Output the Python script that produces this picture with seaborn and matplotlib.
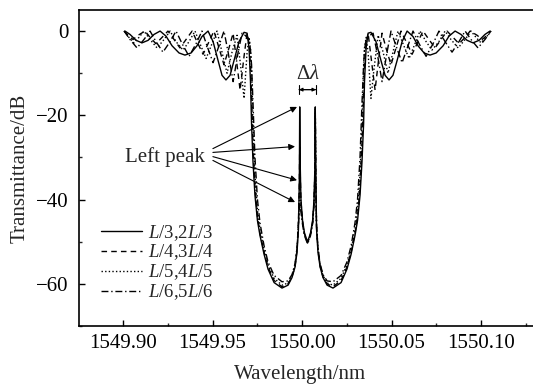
import matplotlib
matplotlib.use("Agg")
import matplotlib.pyplot as plt
import seaborn as sns
import pandas as pd
from matplotlib.ticker import MultipleLocator, FormatStrFormatter

# ---------------- data ----------------
labels = [r"$L$/3,2$L$/3", r"$L$/4,3$L$/4", r"$L$/5,4$L$/5", r"$L$/6,5$L$/6"]

# wavelengths (nm) of the stop-band core region, shared by all curves
core_wl = [1549.9704, 1549.9712, 1549.9718, 1549.9726, 1549.9737, 1549.9751,
           1549.9765, 1549.9788, 1549.9810, 1549.9844, 1549.9888, 1549.9922,
           1549.9944, 1549.9961, 1549.9972, 1549.9980, 1549.9985, 1549.9987,
           1549.9990, 1549.9994, 1550.0003, 1550.0014, 1550.0031,
           1550.0047, 1550.0059, 1550.0067, 1550.0072, 1550.0074, 1550.0077,
           1550.0081, 1550.0089, 1550.0101, 1550.0117, 1550.0140, 1550.0173,
           1550.0218, 1550.0251, 1550.0274, 1550.0296, 1550.0310, 1550.0324,
           1550.0335, 1550.0344, 1550.0349, 1550.0358]

# ---- L/3, 2L/3 (solid)
solid_wl_left = [1549.9011, 1549.9039, 1549.9073, 1549.9106, 1549.9140, 1549.9173,
                 1549.9207, 1549.9240, 1549.9274, 1549.9313, 1549.9346, 1549.9380,
                 1549.9413, 1549.9441, 1549.9475, 1549.9503, 1549.9531, 1549.9553,
                 1549.9575, 1549.9598, 1549.9620, 1549.9648, 1549.9676, 1549.9693]
solid_wl_right = [1550.0369, 1550.0385, 1550.0413, 1550.0441, 1550.0464, 1550.0486,
                  1550.0508, 1550.0531, 1550.0559, 1550.0587, 1550.0620, 1550.0648,
                  1550.0682, 1550.0715, 1550.0749, 1550.0788, 1550.0821, 1550.0855,
                  1550.0888, 1550.0922, 1550.0955, 1550.0989, 1550.1022, 1550.1050]
solid_db = [0, -0.8, -2.2, -2.8, -2.2, -0.8, 0, -1.2, -3.5, -5.2, -5.7, -5.2,
            -3.5, -1.3, 0, -2.5, -7, -10.5, -11.6, -10.5, -7, -2.5, -0.3, -0.5,
            -4, -12, -22, -31, -39, -45, -48.5, -53, -56.5, -59.7, -61, -60.3,
            -58.5, -56, -52.5, -47, -35, -18, -32, -40, -45, -48, -50,
            -48, -45, -40, -32, -18, -35, -47, -52.5, -56, -58.5, -60.3, -61,
            -59.7, -56.5, -53, -48.5, -45, -39, -31, -22, -12, -4,
            -0.5, -0.3, -2.5, -7, -10.5, -11.6, -10.5, -7, -2.5, 0, -1.3, -3.5,
            -5.2, -5.7, -5.2, -3.5, -1.2, 0, -0.8, -2.2, -2.8, -2.2, -0.8, 0]

# ---- L/4, 3L/4 (dashed)
dashed_wl_left = [1549.9006, 1549.9028, 1549.9056, 1549.9084, 1549.9123, 1549.9151,
                  1549.9184, 1549.9218, 1549.9251, 1549.9285, 1549.9318, 1549.9352,
                  1549.9386, 1549.9413, 1549.9447, 1549.9475, 1549.9508, 1549.9536,
                  1549.9564, 1549.9592, 1549.9615, 1549.9631, 1549.9654, 1549.9676,
                  1549.9693]
dashed_wl_right = [1550.0369, 1550.0385, 1550.0408, 1550.0430, 1550.0447, 1550.0469,
                   1550.0497, 1550.0525, 1550.0553, 1550.0587, 1550.0615, 1550.0648,
                   1550.0676, 1550.0709, 1550.0743, 1550.0777, 1550.0810, 1550.0844,
                   1550.0877, 1550.0911, 1550.0939, 1550.0978, 1550.1006, 1550.1034,
                   1550.1056]
dashed_db = [0, -1, -2, -1, 0, -1.5, -3, -1.5, 0, -2, -4, -2, 0, -2.5, -5.5, -3,
             0, -4, -8, -4, -0.5, -6, -14, -6, -0.5,
             -3, -8, -15, -27, -37, -44, -48, -52.5, -56, -59.2, -60.7, -60,
             -58.3, -55.8, -52, -45, -36, -27.5, -34, -40.5, -45.3, -48.2, -50.2,
             -48.2, -45.3, -40.5, -33, -18.5, -35, -46.5, -52, -55.8, -58.3, -60,
             -60.7, -59.2, -56, -52.5, -48, -44, -37, -27, -15, -8, -3,
             -0.5, -6, -14, -6, -0.5, -4, -8, -4, 0, -3, -5.5, -2.5, 0, -2, -4,
             -2, 0, -1.5, -3, -1.5, 0, -1, -2, -1, 0]

# ---- L/5, 4L/5 (dotted)
dotted_wl_left = [1549.9006, 1549.9033, 1549.9061, 1549.9089, 1549.9117, 1549.9151,
                  1549.9190, 1549.9229, 1549.9263, 1549.9296, 1549.9335, 1549.9369,
                  1549.9402, 1549.9430, 1549.9464, 1549.9497, 1549.9525, 1549.9553,
                  1549.9581, 1549.9609, 1549.9637, 1549.9659, 1549.9676, 1549.9693]
dotted_wl_right = [1550.0369, 1550.0385, 1550.0402, 1550.0425, 1550.0453, 1550.0480,
                   1550.0508, 1550.0536, 1550.0564, 1550.0598, 1550.0631, 1550.0659,
                   1550.0693, 1550.0726, 1550.0765, 1550.0799, 1550.0832, 1550.0872,
                   1550.0911, 1550.0944, 1550.0972, 1550.1000, 1550.1028, 1550.1056]
dotted_db = [0, -1.5, -2.8, -1.5, 0, -2, -4, -2, 0, -2.5, -4.5, -2.5, 0, -3,
             -6.5, -3, 0, -5, -10, -5, -1, -9, -16, -5,
             -1.5, -4, -9, -22, -34, -42.5, -47, -52, -55.5, -58.7, -60.3, -59.8,
             -58, -55.5, -51.5, -45.5, -39.5, -35.5, -38, -41.5, -45.6, -48.4, -50.3,
             -48.4, -45.6, -41, -34, -19, -35.5, -46, -51.5, -55.5, -58, -59.8,
             -60.3, -58.7, -55.5, -52, -47, -42.5, -34, -22, -9, -4, -1.5,
             -5, -16, -9, -1, -5, -10, -5, 0, -3, -6.5, -3, 0, -2.5, -4.5, -2.5,
             0, -2, -4, -2, 0, -1.5, -2.8, -1.5, 0]

# ---- L/6, 5L/6 (dash-dot)
dashdot_wl_left = [1549.9006, 1549.9039, 1549.9078, 1549.9117, 1549.9151, 1549.9184,
                   1549.9223, 1549.9263, 1549.9296, 1549.9330, 1549.9369, 1549.9408,
                   1549.9441, 1549.9469, 1549.9503, 1549.9536, 1549.9564, 1549.9587,
                   1549.9615, 1549.9643, 1549.9665, 1549.9682, 1549.9693]
dashdot_wl_right = [1550.0369, 1550.0380, 1550.0397, 1550.0419, 1550.0447, 1550.0475,
                    1550.0497, 1550.0525, 1550.0559, 1550.0592, 1550.0620, 1550.0654,
                    1550.0693, 1550.0732, 1550.0765, 1550.0799, 1550.0838, 1550.0877,
                    1550.0911, 1550.0944, 1550.0983, 1550.1022, 1550.1056]
dashdot_db = [0, -2, -4, -2, 0, -2.5, -5, -2.5, 0, -3, -6, -3, 0, -3.5, -7.5,
              -3.5, 0, -5, -12, -5, -0.5, -1, -1.5,
              -2, -4.5, -8, -17, -30, -40, -45.5, -51, -54.8, -58, -59.5, -59.3,
              -57.8, -55.2, -51.5, -46, -42, -40.8, -41.5, -43, -46, -48.6, -50.5,
              -48.6, -46, -41.5, -35, -19.5, -36, -46, -51.5, -55.2, -57.8, -59.3,
              -59.5, -58, -54.8, -51, -45.5, -40, -30, -17, -8, -4.5, -2,
              -1.5, -1, -0.5, -5, -12, -5, 0, -3.5, -7.5, -3.5, 0, -3, -6, -3, 0,
              -2.5, -5, -2.5, 0, -2, -4, -2, 0]

x_ticks = [1549.90, 1549.95, 1550.00, 1550.05, 1550.10]
y_ticks = [0, -20, -40, -60]

# ---------------- build long table ----------------
frames = []
for lab, wl, db in [
        (labels[0], solid_wl_left + core_wl + solid_wl_right, solid_db),
        (labels[1], dashed_wl_left + core_wl + dashed_wl_right, dashed_db),
        (labels[2], dotted_wl_left + core_wl + dotted_wl_right, dotted_db),
        (labels[3], dashdot_wl_left + core_wl + dashdot_wl_right, dashdot_db)]:
    frames.append(pd.DataFrame({"wl": wl, "db": db, "series": lab}))
df = pd.concat(frames, ignore_index=True)

# ---------------- style ----------------
sns.set_style("ticks")
plt.rcParams["font.family"] = ["Liberation Serif", "DejaVu Serif"]
plt.rcParams["mathtext.fontset"] = "custom"
plt.rcParams["mathtext.rm"] = "Liberation Serif"
plt.rcParams["mathtext.it"] = "Liberation Serif:italic"
plt.rcParams["axes.unicode_minus"] = True

W, H = 533, 388
fig = plt.figure(figsize=(W / 100, H / 100), dpi=100)
ax_left, ax_right, ax_top, ax_bot = 79, 538, 10, 326
ax = fig.add_axes([ax_left / W, 1 - ax_bot / H, (ax_right - ax_left) / W,
                   (ax_bot - ax_top) / H])

sns.lineplot(data=df, x="wl", y="db", style="series", style_order=labels,
             dashes=["", (4, 3), (1, 1.6), (5, 2, 1, 2)], color="black",
             linewidth=1.0, estimator=None, sort=False, ax=ax, legend=True)

ax.set_xlim(1549.8754, 1549.8754 + (ax_right - ax_left) / 1790)
ax.set_ylim(-70, 5)
ax.set_xticks(x_ticks)
ax.set_yticks(y_ticks)
ax.xaxis.set_major_formatter(FormatStrFormatter("%.2f"))
ax.xaxis.set_minor_locator(MultipleLocator(0.025))
ax.yaxis.set_minor_locator(MultipleLocator(10))
ax.tick_params(which="major", direction="in", length=4, width=1.0,
               labelsize=15, colors="black")
ax.tick_params(which="minor", direction="in", length=2, width=1.0)
ax.tick_params(axis="x", pad=5.5)
ax.tick_params(axis="y", pad=7.5)
ax.tick_params(top=False, right=False, which="both")
for s in ["left", "bottom", "top"]:
    ax.spines[s].set_linewidth(1.2)
    ax.spines[s].set_color("black")
ax.spines["right"].set_visible(False)

ax.set_xlabel("Wavelength/nm", fontsize=15)
ax.set_ylabel("Transmittance/dB", fontsize=15)
ax.xaxis.set_label_coords((300 - ax_left) / (ax_right - ax_left), -0.122)
ax.yaxis.set_label_coords(-0.1065, 0.5)

handles, labs = ax.get_legend_handles_labels()
ax.legend(handles, labs, loc="center left", bbox_to_anchor=(0.048, 0.201),
          frameon=False, borderpad=0, borderaxespad=0, handlelength=2.2,
          handletextpad=0.33, labelspacing=0.0, fontsize=13.5)

# "Left peak" annotation
ax.text(1549.9235, -29.8, "Left peak", fontsize=15, ha="center", va="center")
tails = [(1549.9502, -27.9), (1549.9502, -28.8), (1549.9502, -29.8), (1549.9502, -30.7)]
tips = [(1549.9972, -18.0), (1549.9961, -27.4), (1549.9972, -35.4), (1549.9961, -40.6)]
for t, p in zip(tails, tips):
    ax.annotate("", xy=p, xytext=t,
                arrowprops=dict(arrowstyle="-|>", lw=0.8, color="black",
                                mutation_scale=9, shrinkA=0, shrinkB=0))

# Δλ marker
ax.text(1550.0034, -10.4, r"$\Delta\lambda$", fontsize=15, ha="center", va="center")
ax.annotate("", xy=(1549.9983, -13.9), xytext=(1550.0078, -13.9),
            arrowprops=dict(arrowstyle="|-|", lw=0.8, color="black",
                            mutation_scale=3, shrinkA=0, shrinkB=0))
ax.annotate("", xy=(1549.9983, -13.9), xytext=(1550.0078, -13.9),
            arrowprops=dict(arrowstyle="<|-|>", lw=0.8, color="black",
                            mutation_scale=5, shrinkA=0, shrinkB=0))

fig.savefig("out.png", dpi=100)
